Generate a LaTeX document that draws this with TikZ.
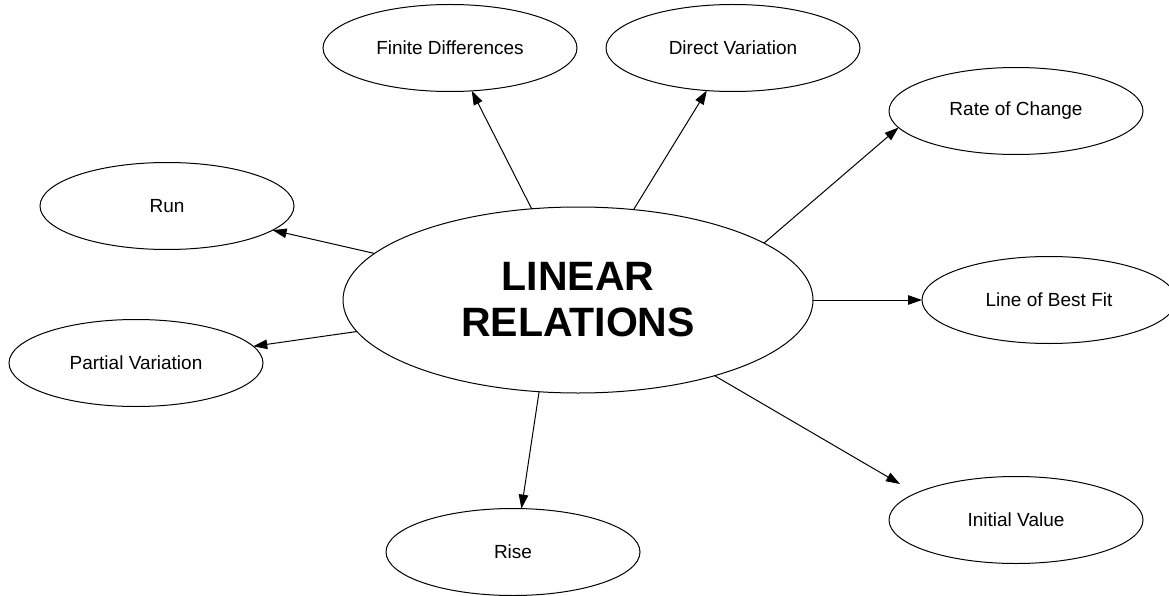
\documentclass[tikz,border=0pt]{standalone}
\usepackage{fontspec}
\newfontfamily\arialf{Liberation Sans}
\usetikzlibrary{shapes.geometric,arrows.meta}
\tikzset{
  sat/.style={ellipse, draw, line width=1pt, minimum width=254pt, minimum height=87pt,
    inner sep=0pt, outer sep=0pt, font=\arialf\fontsize{19}{22}\selectfont},
  hub/.style={ellipse, draw, line width=1pt, minimum width=470pt, minimum height=186pt,
    inner sep=0pt, outer sep=0pt, align=center,
    font=\arialf\bfseries\fontsize{41}{46}\selectfont},
  arr/.style={draw, line width=1pt, -{Triangle[length=14pt,width=9.5pt]}}
}
\begin{document}
\begin{tikzpicture}[x=1pt,y=-1pt]
\useasboundingbox[fill=white] (0,0) rectangle (1169,596);
\node[hub] (c) at (578,300) {LINEAR\\RELATIONS};
\node[sat] (fd) at (450,48) {Finite Differences};
\node[sat] (dv) at (733,48) {Direct Variation};
\node[sat] (roc) at (1016,111) {Rate of Change};
\node[sat] (run) at (167,206) {Run};
\node[sat] (lbf) at (1049,300) {Line of Best Fit};
\node[sat] (pv) at (136,363) {Partial Variation};
\node[sat] (rise) at (513,552) {Rise};
\node[sat] (iv) at (1016,520) {Initial Value};
\coordinate (ivtip) at (900,484);
\draw[arr] (c) -- (fd);
\draw[arr] (c) -- (dv);
\draw[arr] (c.17) -- (roc.188.5);
\draw[arr] (c) -- (run);
\draw[arr] (c.0) -- (lbf.180);
\draw[arr] (c) -- (pv);
\draw[arr] (c.-113.8) -- (rise.79.7);
\draw[arr] (c.-29.5) -- (ivtip);
\end{tikzpicture}
\end{document}
